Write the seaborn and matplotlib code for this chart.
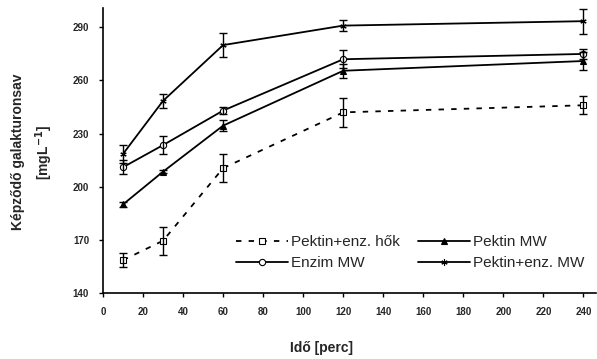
import pandas as pd
import matplotlib
matplotlib.use("Agg")
import matplotlib.pyplot as plt
import seaborn as sns

# idő (perc)
ido = [10, 30, 60, 120, 240]

# képződő galakturonsav [mg/L] és szórás
hok = [158.5, 169.5, 210.5, 242, 246]
hok_err = [4, 8, 8, 8, 5]
pektin_mw = [190, 208.5, 234.5, 265.5, 271]
pektin_mw_err = [1.5, 1, 3, 4, 5]
enzim_mw = [211, 223.5, 243, 272, 275]
enzim_mw_err = [4, 5, 2, 5, 3]
pe_enz_mw = [218.5, 248.5, 280, 291, 293.5]
pe_enz_mw_err = [5, 4, 7, 3, 7]

labels = ["Pektin+enz. hők", "Enzim MW", "Pektin MW", "Pektin+enz. MW"]

sns.set_style("ticks")
plt.rcParams["font.family"] = ["Liberation Sans", "DejaVu Sans"]

fig = plt.figure(figsize=(5.97, 3.59), dpi=100)
ax = fig.add_axes([0.1725, 0.184, 0.825, 0.794])

series = [
    (labels[0], hok, hok_err, "s", "white", (0, (3, 4))),
    (labels[1], enzim_mw, enzim_mw_err, "o", "white", "-"),
    (labels[2], pektin_mw, pektin_mw_err, "^", "black", "-"),
    (labels[3], pe_enz_mw, pe_enz_mw_err, (6, 2, 0), "black", "-"),
]

for name, vals, err, marker, face, ls in series:
    df = pd.DataFrame({"ido": ido, "val": vals})
    sns.lineplot(data=df, x="ido", y="val", ax=ax, color="black",
                 linewidth=1.3, linestyle=ls, marker=marker, markersize=4.5,
                 markerfacecolor=face, markeredgecolor="black",
                 markeredgewidth=0.8, label=name)
    ax.errorbar(ido, vals, yerr=err, fmt="none", ecolor="black",
                elinewidth=1.0, capsize=3, capthick=1.0)

ax.set_xlim(0, 246)
ax.set_ylim(140, 301)
ax.set_xticks(range(0, 241, 20))
ax.set_yticks(range(140, 291, 30))
ax.tick_params(axis="both", labelsize=7, length=3, width=1, color="black")
ax.tick_params(axis="x", pad=7)
ax.tick_params(axis="y", pad=7)
for lab in ax.get_xticklabels() + ax.get_yticklabels():
    lab.set_fontweight("bold")
sns.despine(ax=ax)
for sp in ["left", "bottom"]:
    ax.spines[sp].set_linewidth(1.2)
    ax.spines[sp].set_color("black")

ax.set_xlabel("")
ax.set_ylabel("")
fig.text(322 / 597, 1 - 348 / 359, "Idő [perc]", fontsize=10,
         fontweight="bold", ha="center", va="center")
fig.text(33 / 597, 1 - 152 / 359, "Képződő galakturonsav\n[mgL$^{\\mathbf{-1}}$]",
         fontsize=10, fontweight="bold", rotation=90, ha="center",
         va="center", multialignment="center", linespacing=1.5)

ax.legend(ncol=2, loc="lower right", bbox_to_anchor=(1.005, 0.032),
          frameon=False, fontsize=11, handlelength=3.4, columnspacing=1.2,
          handletextpad=0.2, labelspacing=0.45)

fig.savefig("out.png", dpi=100)
